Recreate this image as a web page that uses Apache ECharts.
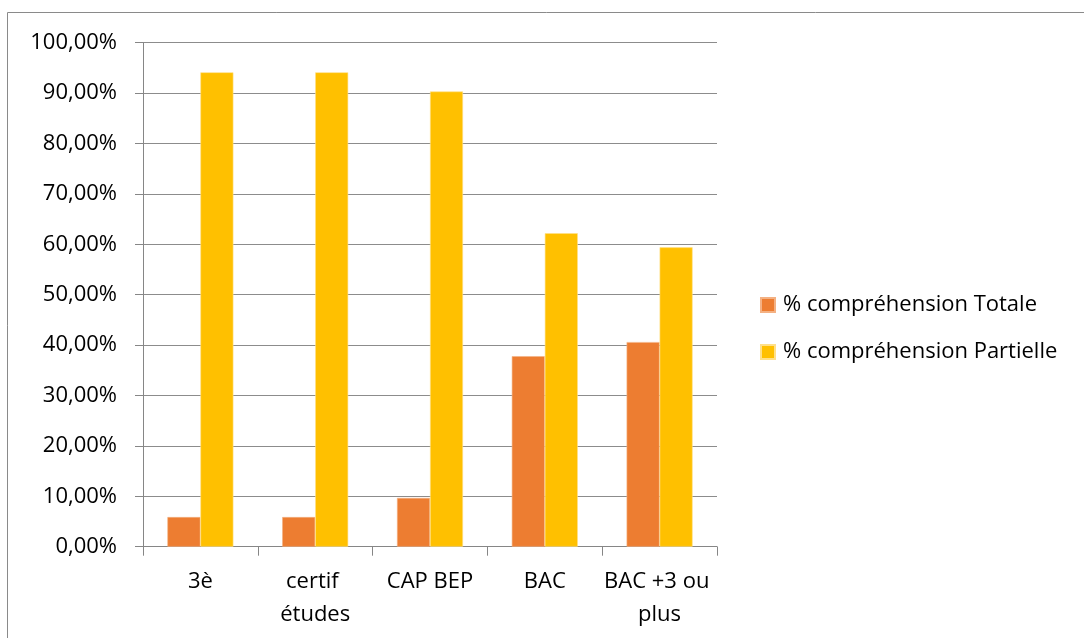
<!DOCTYPE html>
<html>
<head>
<meta charset="utf-8">
<script src="https://cdn.jsdelivr.net/npm/echarts@6/dist/echarts.min.js"></script>
<style>html,body{margin:0;padding:0;background:#fff}#c{width:1084px;height:638px}</style>
</head>
<body>
<div id="c"></div>
<script>
const categories = ['3è', 'certif études', 'CAP BEP', 'BAC', 'BAC +3 ou plus'];
const totale = [5.88, 5.88, 9.68, 37.8, 40.6];
const partielle = [94.12, 94.12, 90.32, 62.2, 59.4];
const seriesNames = ['% compréhension Totale', '% compréhension Partielle'];
const yTicks = {min: 0, max: 100, interval: 10};

const FONT = 'Open Sans';
const chart = echarts.init(document.getElementById('c'), null, {renderer: 'canvas'});
chart.setOption({
  animation: false,
  backgroundColor: '#fff',
  textStyle: {fontFamily: FONT},
  graphic: [{
    type: 'rect', silent: true,
    shape: {x: 7.5, y: 12.5, width: 1200, height: 800},
    style: {fill: 'none', stroke: '#8a8a8a', lineWidth: 1}
  }],
  grid: {left: 143, right: 367, top: 42.7, bottom: 91.3, containLabel: false},
  legend: {
    orient: 'vertical',
    left: 760, top: 293, padding: 0,
    itemWidth: 14, itemHeight: 14, itemGap: 23,
    icon: 'rect',
    textStyle: {fontFamily: FONT, fontSize: 22, lineHeight: 24, color: '#000', padding: [0, 0, 0, 3]},
    data: seriesNames
  },
  xAxis: {
    type: 'category',
    data: categories,
    axisLine: {lineStyle: {color: '#868686', width: 1}},
    axisTick: {show: true, length: 9, lineStyle: {color: '#868686'}},
    axisLabel: {
      fontFamily: FONT, fontSize: 22, color: '#000',
      margin: 19, lineHeight: 33,
      width: 112, overflow: 'break', interval: 0
    }
  },
  yAxis: {
    type: 'value',
    min: yTicks.min, max: yTicks.max, interval: yTicks.interval,
    axisLine: {show: true, lineStyle: {color: '#868686', width: 1}},
    axisTick: {show: true, length: 8, lineStyle: {color: '#868686'}},
    splitLine: {lineStyle: {color: '#8c8c8c', width: 1}},
    axisLabel: {
      fontFamily: FONT, fontSize: 22, color: '#000', margin: 26,
      formatter: v => v.toFixed(2).replace('.', ',') + '%'
    }
  },
  series: [
    {name: seriesNames[0], type: 'bar', data: totale, barWidth: 33, barGap: '0%',
     itemStyle: {color: '#ED7D31', borderColor: '#F4B183', borderWidth: 0.6}},
    {name: seriesNames[1], type: 'bar', data: partielle, barWidth: 33, barGap: '0%',
     itemStyle: {color: '#FFC000', borderColor: '#FFE08A', borderWidth: 0.6}}
  ]
});
</script>
</body>
</html>
